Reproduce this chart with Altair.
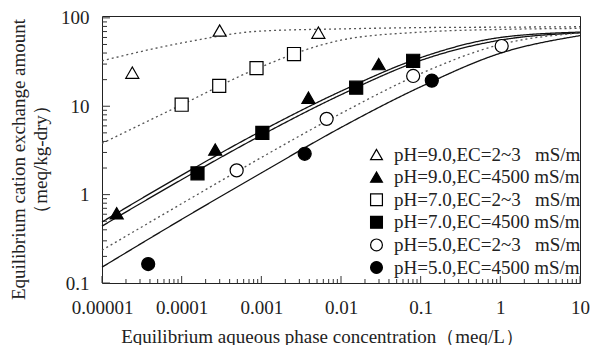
import altair as alt
import pandas as pd

# ---------------- data ----------------
series_names = [
    "pH=9.0,EC=2~3\u00a0\u00a0\u00a0mS/m",
    "pH=9.0,EC=4500\u00a0mS/m",
    "pH=7.0,EC=2~3\u00a0\u00a0\u00a0mS/m",
    "pH=7.0,EC=4500\u00a0mS/m",
    "pH=5.0,EC=2~3\u00a0\u00a0\u00a0mS/m",
    "pH=5.0,EC=4500\u00a0mS/m",
]
series_shapes = ["triangle-up", "triangle-up", "square", "square", "circle", "circle"]
series_fills = ["white", "black", "white", "black", "white", "black"]
series_strokes = ["black"] * 6

# measured points
pts_x = [
    [2.4e-5, 3.0e-4, 5.2e-3],
    [1.53e-5, 2.64e-4, 3.9e-3, 0.0297],
    [1.0e-4, 2.96e-4, 8.7e-4, 2.57e-3],
    [1.58e-4, 1.03e-3, 0.0155, 0.0805],
    [4.9e-4, 6.6e-3, 0.0805, 1.04],
    [3.8e-5, 3.5e-3, 0.138],
]
pts_y = [
    [24, 72, 68],
    [0.615, 3.24, 12.5, 30],
    [10.4, 17, 27, 39],
    [1.74, 5.0, 16.2, 32.7],
    [1.88, 7.2, 22, 48],
    [0.164, 2.9, 19.5],
]

# fitted curves (read at each decade)
curve_style = ["dot", "solid", "dot", "solid", "dot", "solid"]
curve_x = [1e-5, 1e-4, 1e-3, 1e-2, 1e-1, 1, 10]
curve_y = [
    [32.7, 52, 71, 75, 77.6, 78.5, 79.4],
    [0.49, 1.66, 5.25, 14.8, 35.5, 60, 69],
    [3.8, 10.4, 28, 56, 69, 74, 76],
    [0.44, 1.48, 4.7, 13.5, 33, 56, 67.6],
    [0.235, 0.79, 2.63, 8.3, 23.4, 50, 67.6],
    [0.151, 0.525, 1.76, 5.75, 16.6, 39.8, 63],
]

x_major = [1e-5, 1e-4, 1e-3, 1e-2, 1e-1, 1, 10]
y_major = [0.1, 1, 10, 100]
x_minor = [m * 10.0 ** k for k in range(-5, 1) for m in range(2, 10)]
y_minor = [m * 10.0 ** k for k in range(-1, 2) for m in range(2, 10)]

# ---------------- tables ----------------
pts = pd.DataFrame(
    [{"series": series_names[i], "x": x, "y": y}
     for i in range(6) for x, y in zip(pts_x[i], pts_y[i])]
)
curves = pd.DataFrame(
    [{"curve": i, "style": curve_style[i], "x": x, "y": y}
     for i in range(6) for x, y in zip(curve_x, curve_y[i])]
)

W, H = 478, 267
FONT = "Liberation Serif"
TXT = "#222"

xs = alt.Scale(type="log", domain=[1e-5, 10], nice=False)
ys = alt.Scale(type="log", domain=[0.1, 105], nice=False)

xaxis = alt.Axis(
    values=x_major, format=".5~f", grid=False, domain=False, ticks=False, tickSize=0,
    labelFont=FONT, labelFontSize=19, labelColor=TXT, labelPadding=15,
    labelFlush=False, labelOverlap=False,
    title="Equilibrium aqueous phase concentration（meq/L）",
    titleFont=FONT, titleFontSize=19, titleFontWeight="normal", titleColor=TXT,
    titleX=220, titleY=59, titleBaseline="alphabetic", titleAnchor="middle",
)
yaxis = alt.Axis(
    values=y_major, format=".1~f", grid=False, domain=False, ticks=False, tickSize=0,
    labelFont=FONT, labelFontSize=19, labelColor=TXT, labelPadding=13,
    labelOverlap=False, labelFlush=False,
    title=["Equilibrium cation exchange amount", "（meq/kg-dry）"],
    titleFont=FONT, titleFontSize=19, titleFontWeight="normal", titleColor=TXT,
    titleX=-93, titleY=143, titleBaseline="top", titleAngle=270, titleLineHeight=22,
)

def xtick(vals, length):
    return alt.Chart(pd.DataFrame({"v": vals})).mark_rule(color="#333", strokeWidth=1).encode(
        x=alt.X("v:Q", scale=xs, axis=xaxis),
        y=alt.value(H), y2=alt.value(H - length),
    )

def ytick(vals, length):
    return alt.Chart(pd.DataFrame({"v": vals})).mark_rule(color="#333", strokeWidth=1).encode(
        y=alt.Y("v:Q", scale=ys, axis=yaxis),
        x=alt.value(0), x2=alt.value(length),
    )

lines = alt.Chart(curves).mark_line(interpolate="monotone", strokeWidth=1.3).encode(
    x=alt.X("x:Q", scale=xs, axis=xaxis),
    y=alt.Y("y:Q", scale=ys, axis=yaxis),
    detail="curve:N",
    strokeDash=alt.StrokeDash("style:N", scale=alt.Scale(domain=["dot", "solid"], range=[[2, 3], [1, 0]]), legend=None),
    color=alt.Color("style:N", scale=alt.Scale(domain=["dot", "solid"], range=["#555", "#111"]), legend=None),
)

leg = alt.Legend(title=None)
points = alt.Chart(pts).mark_point(filled=True, strokeWidth=1.2, opacity=1, size=170).encode(
    x=alt.X("x:Q", scale=xs, axis=xaxis),
    y=alt.Y("y:Q", scale=ys, axis=yaxis),
    shape=alt.Shape("series:N", scale=alt.Scale(domain=series_names, range=series_shapes), legend=leg),
    fill=alt.Fill("series:N", scale=alt.Scale(domain=series_names, range=series_fills), legend=leg),
    stroke=alt.Stroke("series:N", scale=alt.Scale(domain=series_names, range=series_strokes), legend=leg),
)

chart = alt.layer(
    xtick(x_minor, 4), xtick(x_major, 7), ytick(y_minor, 5), ytick(y_major, 8),
    lines, points,
).properties(
    width=W, height=H,
    autosize=alt.AutoSizeParams(type="none"),
    padding={"left": 94, "top": 8, "right": 10, "bottom": 62},
).configure_view(
    stroke="#222", strokeWidth=1,
).configure_legend(
    orient="none", legendX=265, legendY=129, padding=0,
    labelFont=FONT, labelFontSize=19, labelColor=TXT, labelLimit=400,
    labelOffset=8, rowPadding=2.6, symbolSize=140,
    symbolStrokeWidth=1.2, symbolOpacity=1,
)

chart.save("out.html", embed_options={"renderer": "svg", "actions": False})
